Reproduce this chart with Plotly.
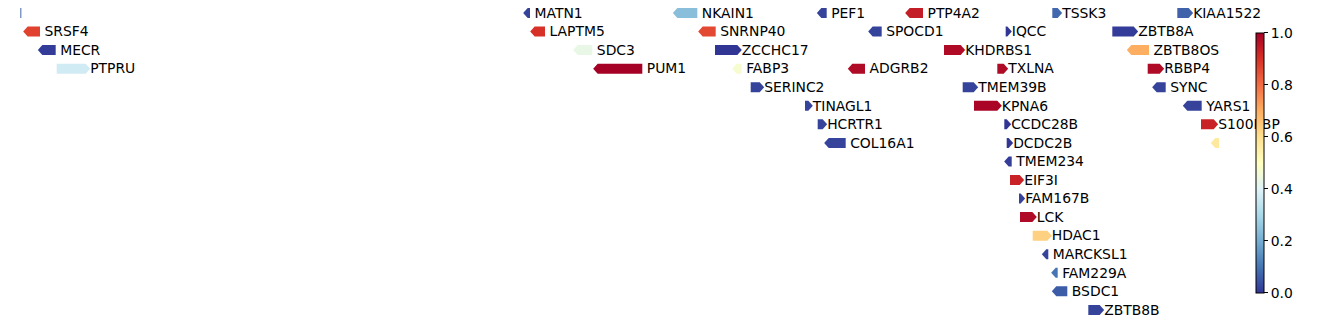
import plotly.graph_objects as go
from plotly.colors import get_colorscale, sample_colorscale

# ---- data (positions in kb along the region) ----
genes = ["", "MATN1", "NKAIN1", "PEF1", "PTP4A2", "TSSK3", "KIAA1522",
         "SRSF4", "LAPTM5", "SNRNP40", "SPOCD1", "IQCC", "ZBTB8A",
         "MECR", "SDC3", "ZCCHC17", "KHDRBS1", "ZBTB8OS",
         "PTPRU", "PUM1", "FABP3", "ADGRB2", "TXLNA", "RBBP4",
         "SERINC2", "TMEM39B", "SYNC",
         "TINAGL1", "KPNA6", "YARS1",
         "HCRTR1", "CCDC28B", "S100PBP",
         "COL16A1", "DCDC2B", "",
         "TMEM234", "EIF3I", "FAM167B", "LCK", "HDAC1", "MARCKSL1",
         "FAM229A", "BSDC1", "ZBTB8B"]
rows = [0, 0, 0, 0, 0, 0, 0,
        1, 1, 1, 1, 1, 1,
        2, 2, 2, 2, 2,
        3, 3, 3, 3, 3, 3,
        4, 4, 4,
        5, 5, 5,
        6, 6, 6,
        7, 7, 7,
        8, 9, 10, 11, 12, 13,
        14, 15, 16]
strands = [".", "-", "-", "-", "-", "+", "+",
           "-", "-", "-", "-", "+", "+",
           "-", "-", "+", "+", "-",
           "+", "-", "-", "-", "+", "+",
           "+", "+", "-",
           "+", "+", "-",
           "+", "+", "+",
           "-", "+", "-",
           "-", "+", "+", "+", "+", "-",
           "-", "-", "+"]
starts = [61, 1583, 2032, 2464, 2729, 3157, 3532,
          83, 1604, 2108, 2618, 3017, 3337,
          127, 1733, 2145, 2832, 3394,
          170, 1793, 2210, 2557, 2992, 3443,
          2252, 2888, 3470,
          2415, 2922, 3562,
          2453, 3013, 3603,
          2486, 3020, 3646,
          3026, 3030, 3057, 3060, 3098, 3139,
          3167, 3169, 3265]
ends = [64, 1590, 2092, 2480, 2769, 3173, 3566,
        120, 1635, 2147, 2645, 3022, 3401,
        167, 1777, 2212, 2882, 3447,
        257, 1927, 2225, 2595, 3011, 3479,
        2279, 2921, 3497,
        2425, 2992, 3605,
        2468, 3020, 3641,
        2537, 3026, 3657,
        3035, 3059, 3062, 3097, 3142, 3145,
        3173, 3202, 3299]
values = [0.08, 0.02, 0.24, 0.02, 0.94, 0.08, 0.07,
          0.87, 0.90, 0.86, 0.02, 0.0, 0.01,
          0.01, 0.43, 0.0, 0.98, 0.70,
          0.37, 1.0, 0.47, 0.98, 0.98, 0.98,
          0.02, 0.02, 0.02,
          0.02, 0.99, 0.02,
          0.02, 0.0, 0.93,
          0.02, 0.0, 0.57,
          0.01, 0.93, 0.02, 0.98, 0.63, 0.02,
          0.10, 0.06, 0.02]
cbar_ticks = [0.0, 0.2, 0.4, 0.6, 0.8, 1.0]

# ---- style ----
HEAD = 13.5      # arrow head length (kb)
HALF = 0.27      # half height of a gene arrow (rows)
TEXT_DY = 0.07   # small downward nudge of labels (rows)
FONT = dict(family="DejaVu Sans", size=13.9, color="black")
cs = get_colorscale("RdYlBu_r")
colors = sample_colorscale(cs, values)

fig = go.Figure()
for name, r, st, s, e, c in zip(genes, rows, strands, starts, ends, colors):
    if st == "+":
        xs = [s, e, e + HEAD, e, s, s]
        ys = [r - HALF, r - HALF, r, r + HALF, r + HALF, r - HALF]
    elif st == "-":
        xs = [e, s, s - HEAD, s, e, e]
        ys = [r - HALF, r - HALF, r, r + HALF, r + HALF, r - HALF]
    else:
        xs = [s, e, e, s, s]
        ys = [r - HALF, r - HALF, r + HALF, r + HALF, r - HALF]
    fig.add_trace(go.Scatter(x=xs, y=ys, mode="lines", fill="toself",
                             fillcolor=c, line=dict(width=0),
                             hoverinfo="skip", showlegend=False))

lab_x = [e + HEAD for e in ends]
lab_y = [r + TEXT_DY for r in rows]
fig.add_trace(go.Scatter(x=lab_x, y=lab_y, mode="text", text=genes,
                         textposition="middle right", textfont=FONT,
                         showlegend=False, hoverinfo="skip"))

fig.add_trace(go.Scatter(
    x=[None], y=[None], mode="markers", showlegend=False,
    marker=dict(color=[0], colorscale="RdYlBu_r", cmin=0, cmax=1,
                showscale=True,
                colorbar=dict(x=0.9385, xanchor="left", y=0.0966,
                              yanchor="bottom", len=0.8037, lenmode="fraction",
                              thickness=8, thicknessmode="pixels",
                              xpad=0, ypad=0, outlinewidth=1,
                              outlinecolor="black", ticks="outside",
                              ticklen=4, tickcolor="black", tickwidth=1,
                              tickvals=cbar_ticks,
                              ticktext=[f"{t:.1f}" for t in cbar_ticks],
                              tickfont=FONT))))

fig.update_layout(
    width=1338, height=324, margin=dict(l=0, r=0, t=0, b=0),
    plot_bgcolor="white", paper_bgcolor="white",
    xaxis=dict(range=[0, 4014], visible=False, showgrid=False, zeroline=False),
    yaxis=dict(range=[16.76, -0.70], visible=False, showgrid=False, zeroline=False),
)
fig.write_html("out.html")
